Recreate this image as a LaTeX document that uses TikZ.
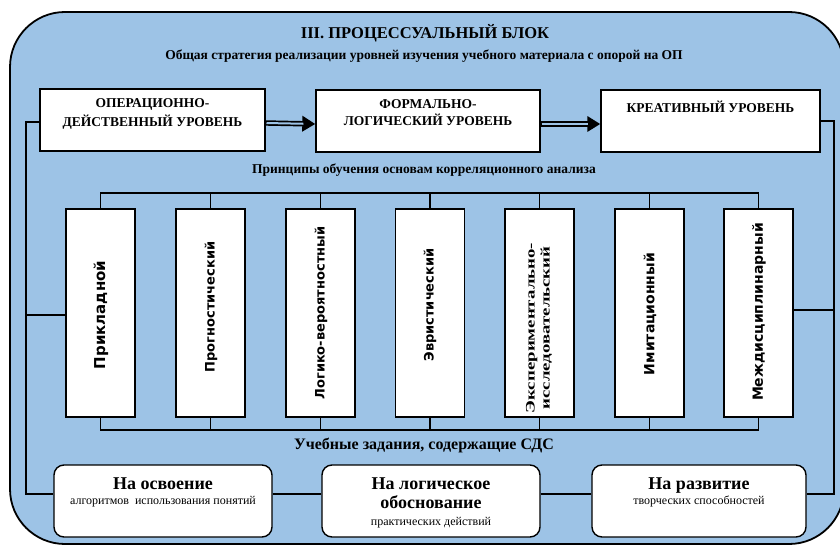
\documentclass[tikz,border=0pt]{standalone}
\usepackage{fontspec}
\setmainfont{Liberation Serif}
\newfontfamily\dvs{DejaVu Sans}
\usetikzlibrary{arrows.meta}
\definecolor{bg}{RGB}{157,195,230}
\newcommand{\fs}[1]{\fontsize{#1}{#1}\selectfont}
\begin{document}
\begin{tikzpicture}[x=1pt,y=-1pt,
  conn/.style={draw, line width=1.1pt},
  topbox/.style={draw, line width=1.4pt, fill=white, minimum width=222pt, minimum height=62pt, inner sep=0pt},
  toptext/.style={font=\bfseries\fs{13.5}, align=center, inner sep=0pt, anchor=north},
  pbox/.style={draw, line width=1.4pt, fill=white, minimum width=69pt, minimum height=208pt, inner sep=0pt},
  ptext/.style={font=\dvs\bfseries\fs{13}, rotate=90, inner sep=0pt},
  bbox/.style={draw, line width=1.4pt, fill=white, rounded corners=10pt, minimum height=72pt, inner sep=0pt},
  bigt/.style={font=\bfseries\fs{18}, anchor=base, inner sep=0pt},
  smallt/.style={font=\fs{12}, anchor=base, inner sep=0pt},
  thickarrow/.style={line width=5.4pt, -{Triangle[length=13pt,width=15pt]}},
  gapline/.style={draw=bg, line width=2pt, shorten >=12pt, shorten <=0.8pt},
  head/.style={font=\bfseries\fs{#1}, inner sep=0pt}
]
\useasboundingbox (0,0) rectangle (840,545);
\fill[white] (0,0) rectangle (840,545);
\draw[line width=1.8pt, fill=bg, rounded corners=55pt] (10,12) rectangle (844,544);

\node[head=16.5] (title) at (425,33) {III. ПРОЦЕССУАЛЬНЫЙ БЛОК};
\node[head=13.5] (sub) at (424,56) {Общая стратегия реализации уровней изучения учебного материала с опорой на ОП};

% top level boxes
\node[topbox, minimum width=225pt] (l1) at (152.5,120) {};
\node[topbox, minimum width=224pt] (l2) at (428,121) {};
\node[topbox, minimum width=219pt] (l3) at (710.5,121) {};
\node[toptext] (l1t) at (152.5,98) {ОПЕРАЦИОННО-\\[4pt]ДЕЙСТВЕННЫЙ УРОВЕНЬ};
\node[toptext] (l2t) at (428,99) {ФОРМАЛЬНО-\\[4pt]ЛОГИЧЕСКИЙ УРОВЕНЬ};
\node[toptext] (l3t) at (710.5,101) {КРЕАТИВНЫЙ УРОВЕНЬ};
\draw[thickarrow] ([yshift=-3pt]l1.east) -- ([yshift=-3pt]l2.west);
\draw[gapline] ([yshift=-3pt]l1.east) -- ([yshift=-3pt]l2.west);
\draw[thickarrow] ([yshift=-3pt]l2.east) -- ([yshift=-3pt]l3.west);
\draw[gapline] ([yshift=-3pt]l2.east) -- ([yshift=-3pt]l3.west);

\node[head=13.5] (plab) at (424,170) {Принципы обучения основам корреляционного анализа};

% principle boxes
\node[pbox] (p1) at (100.5,313) {};
\node[pbox] (p2) at (210.5,313) {};
\node[pbox] (p3) at (320.5,313) {};
\node[pbox] (p4) at (430,313) {};
\node[pbox] (p5) at (539.5,313) {};
\node[pbox] (p6) at (649.5,313) {};
\node[pbox] (p7) at (758.5,313) {};
\node[ptext, font=\dvs\bfseries\fs{15}] (p1t) at (101,315) {Прикладной};
\node[ptext] (p2t) at (211,307) {Прогностический};
\node[ptext] (p3t) at (321,313) {Логико-вероятностный};
\node[ptext] (p4t) at (430,305) {Эвристический};
\node[rotate=90, inner sep=0pt] (p5t) at (539,328) {\scalebox{1.45}[1]{\parbox{118pt}{\centering\bfseries\fontsize{13}{15}\selectfont Экспериментально-\\исследовательский}}};
\node[ptext, font=\dvs\bfseries\fs{14}] (p6t) at (650,314) {Имитационный};
\node[ptext, font=\dvs\bfseries\fs{14}] (p7t) at (759,312) {Междисциплинарный};

% buses
\coordinate (tb) at (0,193);
\coordinate (bb) at (0,430);
\draw[conn] (p1.north) -- (p1.north |- tb) -- (p7.north |- tb) -- (p7.north);
\foreach \i in {2,...,6} {\draw[conn] (p\i.north) -- (p\i.north |- tb);}
\draw[conn] (p1.south) -- (p1.south |- bb) -- (p7.south |- bb) -- (p7.south);
\foreach \i in {2,...,6} {\draw[conn] (p\i.south) -- (p\i.south |- bb);}

\node[head=16] (blab) at (424,445) {Учебные задания, содержащие СДС};

% bottom boxes
\node[bbox, minimum width=218pt] (b1) at (163,501) {};
\node[bbox, minimum width=218pt] (b2) at (431,501) {};
\node[bbox, minimum width=214pt] (b3) at (699,501) {};
\node[bigt] (b1a) at (163,489) {На освоение};
\node[smallt] (b1b) at (163,504) {алгоритмов\ \ использования понятий};
\node[bigt] (b2a) at (431,489) {На логическое};
\node[bigt] (b2b) at (431,508) {обоснование};
\node[smallt] (b2c) at (431,525) {практических действий};
\node[bigt] (b3a) at (699,489) {На развитие};
\node[smallt] (b3b) at (699,504) {творческих способностей};
\draw[conn] ([yshift=7pt]b1.east) -- ([yshift=7pt]b2.west);
\draw[conn] ([yshift=7pt]b2.east) -- ([yshift=7pt]b3.west);

% side connectors
\coordinate (lx) at (26,0);
\coordinate (rx) at (834,0);
\draw[conn] ([yshift=-2pt]l1.west) -- ([yshift=-2pt]l1.west -| lx) |- ([yshift=7pt]b1.west);
\draw[conn] (p1.west |- 0,315) -- (lx |- 0,315);
\draw[conn] (l3.east) -- (l3.east -| rx) |- ([yshift=7pt]b3.east);
\draw[conn] (p7.east |- 0,310) -- (rx |- 0,310);
\end{tikzpicture}
\end{document}
